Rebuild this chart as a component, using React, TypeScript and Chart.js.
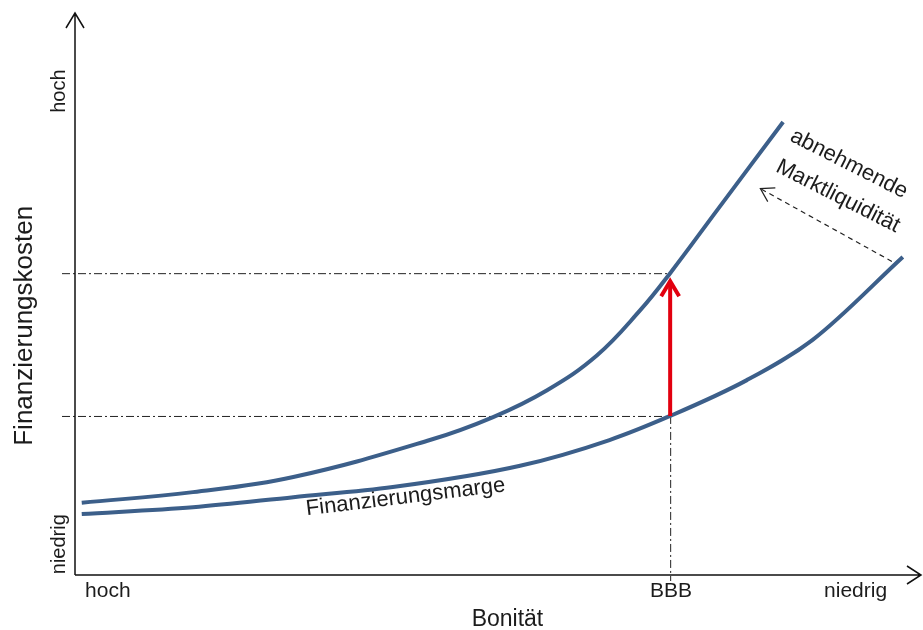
import React, { useEffect, useRef } from "react";
import { Chart, registerables } from "chart.js";

Chart.register(...registerables);

// Bonität (0 = hoch ... 100 = niedrig) on x, Finanzierungskosten (0 = niedrig ... 100 = hoch) on y
const upperX = [0.8, 14, 25.9, 42.1, 49.6, 56, 61.9, 67, 70.6, 76.2, 84];
const upperY = [12.9, 14.8, 17.5, 24.1, 28.2, 33, 39.2, 47.2, 53.9, 65.2, 80.9];
const lowerX = [0.8, 14, 25.9, 37.7, 52.8, 63.4, 70.6, 79.7, 87.5, 98.2];
const lowerY = [10.9, 12.1, 13.9, 15.7, 19.5, 24.1, 28.4, 34.8, 42, 56.8];

const xTickLabels = ["hoch", "BBB", "niedrig"];
const xTickValues = [3.9, 70.7, 92.6];
const yTickLabels = ["niedrig", "hoch"];
const yTickValues = [5.5, 86.4];

const bbbX = 70.6;
const bbbLowerY = 28.4;
const bbbUpperY = 53.9;

const xTitle = "Bonität";
const yTitle = "Finanzierungskosten";
const curveLabel = "Finanzierungsmarge";
const shiftLabel = ["abnehmende", "Marktliquidität"];

const FONT = "'Liberation Sans', Arial, sans-serif";
const TEXT = "#1c1c1c";
const CURVE = "#3c5f8a";

const toPts = (xs: number[], ys: number[]) => xs.map((x, i) => ({ x, y: ys[i] }));

const overlay = {
  id: "overlay",
  beforeDatasetsDraw(chart: any) {
    const { ctx, scales } = chart;
    const xs = scales.x, ys = scales.y;
    const ax = xs.getPixelForValue(0);
    const ay = ys.getPixelForValue(0);
    const bx = xs.getPixelForValue(bbbX);
    const yl = ys.getPixelForValue(bbbLowerY);
    const yu = ys.getPixelForValue(bbbUpperY);
    ctx.save();
    ctx.strokeStyle = "#222";
    ctx.lineWidth = 1;
    ctx.setLineDash([8, 3, 2, 3]);
    ctx.beginPath();
    ctx.moveTo(ax - 13, yu + 0.5); ctx.lineTo(bx, yu + 0.5);
    ctx.moveTo(ax - 13, yl + 0.5); ctx.lineTo(bx, yl + 0.5);
    ctx.moveTo(bx + 0.5, yl); ctx.lineTo(bx + 0.5, ay + 6);
    ctx.stroke();
    ctx.restore();
  },
  afterDatasetsDraw(chart: any) {
    const { ctx, scales } = chart;
    const xs = scales.x, ys = scales.y;
    const ax = xs.getPixelForValue(0);
    const ay = ys.getPixelForValue(0);
    const right = chart.width - 2;
    const top = 13;
    ctx.save();
    // axes
    ctx.strokeStyle = "#111";
    ctx.lineWidth = 1.5;
    ctx.setLineDash([]);
    ctx.beginPath();
    ctx.moveTo(ax, ay); ctx.lineTo(ax, top);
    ctx.moveTo(ax - 9, top + 15); ctx.lineTo(ax, top); ctx.lineTo(ax + 9, top + 15);
    ctx.moveTo(ax, ay); ctx.lineTo(right, ay);
    ctx.moveTo(right - 14, ay - 9); ctx.lineTo(right, ay); ctx.lineTo(right - 14, ay + 9);
    ctx.stroke();

    // red arrow
    const bx = xs.getPixelForValue(bbbX);
    const yl = ys.getPixelForValue(bbbLowerY);
    const yu = ys.getPixelForValue(bbbUpperY);
    const tip = yu + 5;
    ctx.strokeStyle = "#e2000f";
    ctx.lineWidth = 4;
    ctx.lineCap = "butt";
    ctx.beginPath();
    ctx.moveTo(bx, yl); ctx.lineTo(bx, tip + 4);
    ctx.stroke();
    ctx.lineJoin = "miter";
    ctx.beginPath();
    ctx.moveTo(bx - 9, tip + 18); ctx.lineTo(bx, tip + 3); ctx.lineTo(bx + 9, tip + 18);
    ctx.stroke();

    // dashed liquidity arrow
    const sx = xs.getPixelForValue(96.9), sy = ys.getPixelForValue(56);
    const ex = xs.getPixelForValue(81.3), ey = ys.getPixelForValue(69);
    ctx.strokeStyle = "#222";
    ctx.lineWidth = 1.2;
    ctx.setLineDash([5, 4]);
    ctx.beginPath();
    ctx.moveTo(sx, sy); ctx.lineTo(ex, ey);
    ctx.stroke();
    ctx.setLineDash([]);
    const ang = Math.atan2(sy - ey, sx - ex);
    const hl = 15, hw = 0.55;
    ctx.beginPath();
    ctx.moveTo(ex + hl * Math.cos(ang - hw), ey + hl * Math.sin(ang - hw));
    ctx.lineTo(ex, ey);
    ctx.lineTo(ex + hl * Math.cos(ang + hw), ey + hl * Math.sin(ang + hw));
    ctx.stroke();

    // texts
    ctx.fillStyle = TEXT;
    ctx.textAlign = "center";
    ctx.textBaseline = "alphabetic";
    ctx.font = `21px ${FONT}`;
    xTickLabels.forEach((t, i) => {
      ctx.fillText(t, xs.getPixelForValue(xTickValues[i]), ay + 22);
    });
    ctx.font = `23px ${FONT}`;
    ctx.fillText(xTitle, xs.getPixelForValue(51.3), ay + 51);

    ctx.textBaseline = "middle";
    ctx.font = `20px ${FONT}`;
    yTickLabels.forEach((t, i) => {
      ctx.save();
      ctx.translate(ax - 16, ys.getPixelForValue(yTickValues[i]));
      ctx.rotate(-Math.PI / 2);
      ctx.fillText(t, 0, 0);
      ctx.restore();
    });
    ctx.save();
    ctx.font = `26px ${FONT}`;
    ctx.translate(ax - 50, ys.getPixelForValue(44.5));
    ctx.rotate(-Math.PI / 2);
    ctx.fillText(yTitle, 0, 0);
    ctx.restore();

    ctx.save();
    ctx.font = `22px ${FONT}`;
    ctx.textBaseline = "alphabetic";
    ctx.translate(xs.getPixelForValue(39.3), ys.getPixelForValue(12.8));
    ctx.rotate(-6.9 * Math.PI / 180);
    ctx.fillText(curveLabel, 0, 0);
    ctx.restore();

    ctx.font = `22px ${FONT}`;
    const rot = 27 * Math.PI / 180;
    ctx.save();
    ctx.translate(xs.getPixelForValue(91.8), ys.getPixelForValue(73.4));
    ctx.rotate(rot);
    ctx.fillText(shiftLabel[0], 0, 0);
    ctx.restore();
    ctx.save();
    ctx.translate(xs.getPixelForValue(90.5), ys.getPixelForValue(67.6));
    ctx.rotate(rot);
    ctx.fillText(shiftLabel[1], 0, 0);
    ctx.restore();
    ctx.restore();
  },
};

export default function App() {
  const ref = useRef<HTMLCanvasElement | null>(null);
  useEffect(() => {
    if (!ref.current) return;
    const chart = new Chart(ref.current, {
      type: "line",
      data: {
        datasets: [
          {
            data: toPts(upperX, upperY),
            borderColor: CURVE,
            borderWidth: 4,
            pointRadius: 0,
            tension: 0.4,
            fill: false,
          },
          {
            data: toPts(lowerX, lowerY),
            borderColor: CURVE,
            borderWidth: 4,
            pointRadius: 0,
            cubicInterpolationMode: "monotone",
            fill: false,
          },
        ],
      },
      options: {
        animation: false,
        responsive: false,
        maintainAspectRatio: false,
        layout: { padding: { left: 75, top: 15, right: 5, bottom: 55 } },
        plugins: { legend: { display: false }, tooltip: { enabled: false } },
        scales: {
          x: { type: "linear", min: 0, max: 100, display: false },
          y: { type: "linear", min: 0, max: 100, display: false },
        },
      },
      plugins: [overlay],
    } as any);
    return () => chart.destroy();
  }, []);
  return (
    <div style={{ position: "fixed", left: 0, top: 0, width: 923, height: 630, background: "#fff" }}>
      <canvas ref={ref} width={923} height={630} style={{ width: 923, height: 630 }} />
    </div>
  );
}
